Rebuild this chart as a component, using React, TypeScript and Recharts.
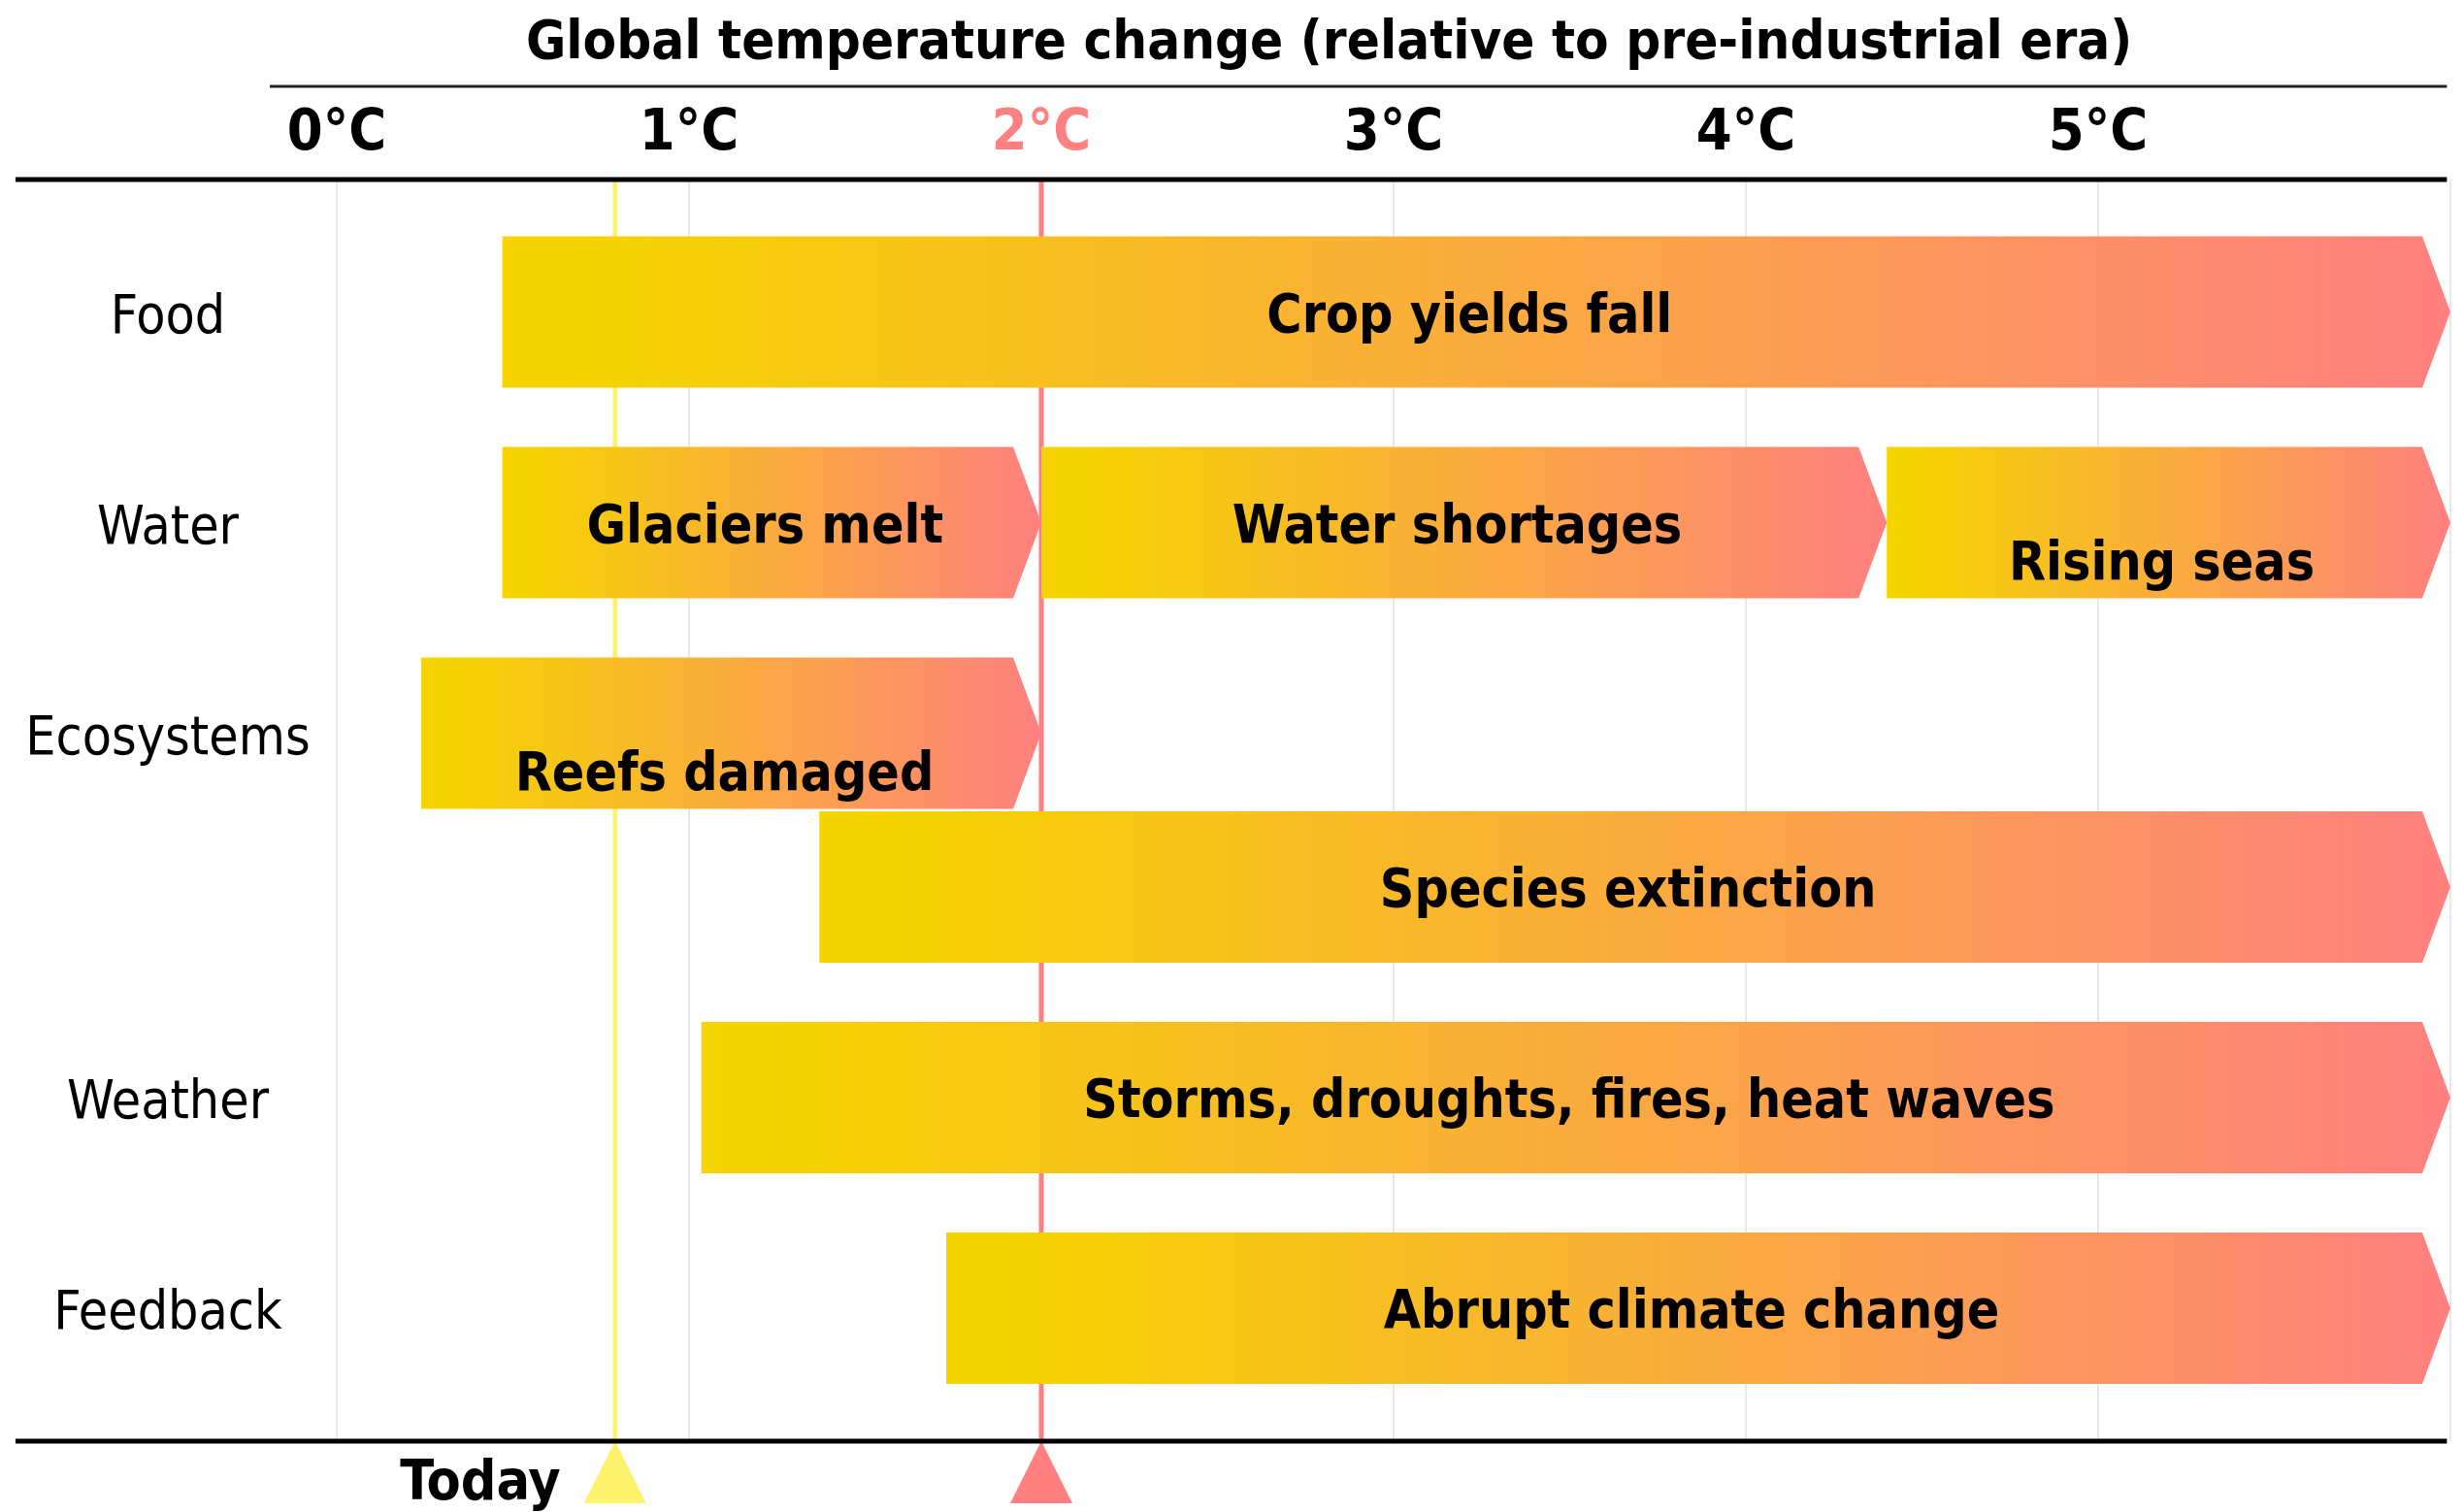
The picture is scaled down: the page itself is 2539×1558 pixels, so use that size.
import React from 'react';
import { BarChart, Bar, XAxis, YAxis, CartesianGrid, ReferenceLine } from 'recharts';

// ---------- data ----------
const TITLE = 'Global temperature change (relative to pre-industrial era)';
const TEMP_TICKS = [0, 1, 2, 3, 4, 5, 6];
const TEMP_TICK_LABELS = ['0°C', '1°C', '2°C', '3°C', '4°C', '5°C', ''];

const ROW_NAMES = ['Food', 'Water', 'Ecosystems', 'Weather', 'Feedback'];
const ROW_POSITIONS = [0, 1, 2, 3.73, 4.73];

const IMPACT_LABELS = [
  'Crop yields fall',
  'Glaciers melt',
  'Water shortages',
  'Rising seas',
  'Reefs damaged',
  'Species extinction',
  'Storms, droughts, fires, heat waves',
  'Abrupt climate change',
];
const IMPACT_ROWS = [0, 1, 1, 1, 2, 2.73, 3.73, 4.73];
const IMPACT_START = [0.47, 0.47, 2.0, 4.4, 0.24, 1.37, 1.035, 1.73];
const IMPACT_END = [6, 2, 4.4, 6, 2, 6, 6, 6];

const TODAY_TEMP = 0.79;
const LIMIT_TEMP = 2;
const LOWERED_LABELS = ['Rising seas', 'Reefs damaged'];

const data = IMPACT_LABELS.map((label, i) => ({
  label,
  row: IMPACT_ROWS[i],
  range: [IMPACT_START[i], IMPACT_END[i]],
}));

// ---------- style ----------
const FONT = "'DejaVu Sans Condensed', 'DejaVu Sans', sans-serif";
const YELLOW = '#F5D400';
const SALMON = '#FF8080';
const TODAY_COLOR = '#FFF36E';
const GRID_COLOR = '#E8E8E8';
const Y_DOMAIN: [number, number] = [-0.63, 5.36];
const RULE_Y = -1.072;
const LINE_X_START = -0.912;
const RULE_X_START = -0.19;
const LINE_X_END = 5.99;

const ArrowShape = (props: any) => {
  const { x, y, width, height, payload } = props;
  if (width == null || height == null) return null;
  const tip = Math.min(29, width);
  const pts = `${x},${y} ${x + width - tip},${y} ${x + width},${y + height / 2} ${x + width - tip},${y + height} ${x},${y + height}`;
  const label = payload?.label;
  const dy = LOWERED_LABELS.includes(label) ? 38 : 0;
  return (
    <g>
      <polygon points={pts} fill="url(#heatGradient)" />
      <text
        x={x + width / 2 - 7}
        y={y + height / 2 + 20 + dy}
        textAnchor="middle"
        fontFamily={FONT}
        fontStretch="condensed"
        fontWeight="bold"
        fontSize={55}
        fill="#000"
      >
        {label}
      </text>
    </g>
  );
};

const TempTick = (props: any) => {
  const { x, y, payload } = props;
  const i = TEMP_TICKS.indexOf(payload.value);
  return (
    <text
      x={x}
      y={y - 31}
      textAnchor="middle"
      fontFamily={FONT}
      fontStretch="condensed"
      fontWeight="bold"
      fontSize={59}
      fill={payload.value === LIMIT_TEMP ? SALMON : '#000'}
    >
      {TEMP_TICK_LABELS[i]}
    </text>
  );
};

const RowTick = (props: any) => {
  const { x, y, payload } = props;
  const i = ROW_POSITIONS.indexOf(payload.value);
  return (
    <text
      x={x - 174}
      y={y + 21}
      textAnchor="middle"
      fontFamily={FONT}
      fontStretch="condensed"
      fontSize={55}
      fill="#000"
    >
      {ROW_NAMES[i]}
    </text>
  );
};

const marker = (color: string, text?: string) => (props: any) => {
  const vb = props.viewBox || {};
  const x = vb.x;
  const yb = (vb.y || 0) + (vb.height || 0);
  return (
    <g>
      <polygon points={`${x},${yb} ${x - 32},${yb + 64} ${x + 32},${yb + 64}`} fill={color} />
      {text ? (
        <text
          x={x - 56}
          y={yb + 60}
          textAnchor="end"
          fontFamily={FONT}
          fontStretch="condensed"
          fontWeight="bold"
          fontSize={57}
          fill="#000"
        >
          {text}
        </text>
      ) : null}
    </g>
  );
};

const TitleLabel = (props: any) => {
  const vb = props.viewBox || {};
  return (
    <text
      x={vb.x + vb.width / 2 - 30}
      y={vb.y - 29}
      textAnchor="middle"
      fontFamily={FONT}
      fontStretch="condensed"
      fontWeight="bold"
      fontSize={56}
      fill="#000"
    >
      {TITLE}
    </text>
  );
};

export default function App() {
  return (
    <div style={{ position: 'absolute', left: 0, top: 0, background: '#fff' }}>
      <BarChart
        width={2539}
        height={1558}
        data={data}
        layout="vertical"
        margin={{ top: 85, right: 14, bottom: 73, left: 16 }}
      >
        <defs>
          <linearGradient id="heatGradient" x1="0" y1="0" x2="1" y2="0">
            <stop offset="0%" stopColor={YELLOW} />
            <stop offset="4%" stopColor={YELLOW} />
            <stop offset="100%" stopColor={SALMON} />
          </linearGradient>
        </defs>
        <CartesianGrid horizontal={false} stroke={GRID_COLOR} strokeWidth={2} />
        <XAxis
          type="number"
          orientation="top"
          domain={[0, 6]}
          ticks={TEMP_TICKS}
          interval={0}
          height={100}
          axisLine={false}
          tickLine={false}
          tickSize={0}
          tickMargin={0}
          tick={<TempTick />}
        />
        <YAxis
          type="number"
          dataKey="row"
          domain={Y_DOMAIN}
          ticks={ROW_POSITIONS}
          interval={0}
          width={331}
          axisLine={false}
          tickLine={false}
          tickSize={0}
          tickMargin={0}
          tick={<RowTick />}
        />
        <ReferenceLine
          x={TODAY_TEMP}
          stroke={TODAY_COLOR}
          strokeWidth={5}
          zIndex={-10}
          label={marker(TODAY_COLOR, 'Today')}
        />
        <ReferenceLine x={LIMIT_TEMP} stroke={SALMON} strokeWidth={5} zIndex={-10} label={marker(SALMON)} />
        <ReferenceLine
          segment={[{ x: RULE_X_START, y: RULE_Y }, { x: LINE_X_END, y: RULE_Y }]}
          ifOverflow="visible"
          stroke="#222"
          strokeWidth={3}
          label={TitleLabel}
        />
        <ReferenceLine
          segment={[{ x: LINE_X_START, y: Y_DOMAIN[0] }, { x: LINE_X_END, y: Y_DOMAIN[0] }]}
          ifOverflow="visible"
          stroke="#000"
          strokeWidth={5}
        />
        <ReferenceLine
          segment={[{ x: LINE_X_START, y: Y_DOMAIN[1] }, { x: LINE_X_END, y: Y_DOMAIN[1] }]}
          ifOverflow="visible"
          stroke="#000"
          strokeWidth={5}
        />
        <Bar dataKey="range" barSize={156} shape={<ArrowShape />} isAnimationActive={false} />
      </BarChart>
    </div>
  );
}
